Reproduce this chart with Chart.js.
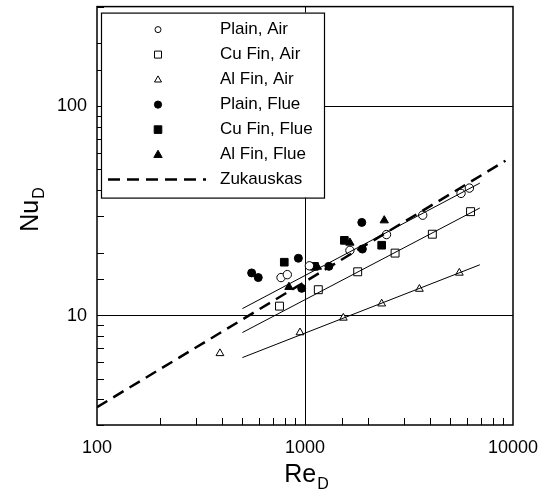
<!DOCTYPE html>
<html lang="en">
  <head>
    <meta charset="UTF-8" />
    <title>Nu vs Re</title>
    <script src="https://cdn.jsdelivr.net/npm/chart.js"></script>
    <style>
      body { margin: 0; background: #fff; }
      canvas { display: block; }
    </style>
  </head>
  <body>
    <canvas id="nuChart" width="549" height="489"></canvas>

    <script>
      // data
      const plainAirRe = [767, 822, 1050, 1644, 2465, 3680, 5625, 6170];
      const plainAirNu = [15.2, 15.7, 17.3, 20.5, 24.4, 30.2, 38.4, 40.7];

      const cuAirRe = [754, 1159, 1792, 2711, 4095, 6250];
      const cuAirNu = [11.1, 13.3, 16.2, 19.9, 24.5, 31.4];

      const alAirRe = [390, 946, 1528, 2337, 3548, 5520];
      const alAirNu = [6.6, 8.3, 9.75, 11.4, 13.4, 16.0];

      const plainFlueRe = [554, 596, 929, 964, 1303, 1887, 1875];
      const plainFlueNu = [16.0, 15.2, 18.8, 13.5, 17.2, 20.8, 27.9];

      const cuFlueRe = [795, 1110, 1546, 2337];
      const cuFlueNu = [18.0, 17.2, 22.9, 21.7];

      const alFlueRe = [837, 1146, 1644, 2404];
      const alFlueNu = [13.7, 17.1, 22.3, 28.5];

      // fitted lines (end points)
      const fitRe = [500, 6930];
      const plainAirFit = [10.8, 43];
      const cuAirFit = [8.3, 32.7];
      const alAirFit = [6.3, 17.5];

      const zukRe = [100, 9200];
      const zukNu = [3.65, 55];

      const xTickLabels = [100, 1000, 10000];
      const yTickLabels = [10, 100];

      const legendNames = [
        "Plain, Air",
        "Cu Fin, Air",
        "Al Fin, Air",
        "Plain, Flue",
        "Cu Fin, Flue",
        "Al Fin, Flue",
        "Zukauskas",
      ];

      function pts(xs, ys) {
        return xs.map((x, i) => ({ x: x, y: ys[i] }));
      }

      function isDecade(v) {
        const l = Math.log10(v);
        return Math.abs(l - Math.round(l)) < 1e-6;
      }

      function marker(style, filled, r) {
        return {
          type: "scatter",
          pointStyle: style,
          pointRadius: r,
          pointHoverRadius: r,
          pointBorderWidth: 1,
          pointBorderColor: "#000",
          pointBackgroundColor: filled ? "#000" : "#fff",
          showLine: false,
        };
      }

      function fitLine(xs, ys, dash, width) {
        return {
          type: "line",
          data: pts(xs, ys),
          borderColor: "#000",
          borderWidth: width,
          borderDash: dash,
          pointRadius: 0,
          fill: false,
          tension: 0,
        };
      }

      const datasets = [
        fitLine(fitRe, plainAirFit, [], 1),
        fitLine(fitRe, cuAirFit, [], 1),
        fitLine(fitRe, alAirFit, [], 1),
        fitLine(zukRe, zukNu, [12, 7], 2.5),
        Object.assign(marker("circle", false, 4.2), { data: pts(plainAirRe, plainAirNu) }),
        Object.assign(marker("rect", false, 5.6), { data: pts(cuAirRe, cuAirNu) }),
        Object.assign(marker("triangle", false, 4.5), { data: pts(alAirRe, alAirNu) }),
        Object.assign(marker("circle", true, 4), { data: pts(plainFlueRe, plainFlueNu) }),
        Object.assign(marker("rect", true, 5.4), { data: pts(cuFlueRe, cuFlueNu) }),
        Object.assign(marker("triangle", true, 4.8), { data: pts(alFlueRe, alFlueNu) }),
      ];

      // legend symbols: [style, filled, size]
      const legendMarks = [
        ["circle", false, 3],
        ["rect", false, 3.5],
        ["triangle", false, 3.2],
        ["circle", true, 3.6],
        ["rect", true, 3.8],
        ["triangle", true, 3.8],
        ["dash", true, 0],
      ];

      function drawShape(ctx, style, filled, x, y, r) {
        ctx.beginPath();
        if (style === "circle") {
          ctx.arc(x, y, r, 0, Math.PI * 2);
        } else if (style === "rect") {
          ctx.rect(x - r, y - r, 2 * r, 2 * r);
        } else if (style === "triangle") {
          ctx.moveTo(x, y - r * 1.15);
          ctx.lineTo(x + r * 1.1, y + r * 0.75);
          ctx.lineTo(x - r * 1.1, y + r * 0.75);
          ctx.closePath();
        }
        ctx.fillStyle = filled ? "#000" : "#fff";
        ctx.fill();
        ctx.strokeStyle = "#000";
        ctx.lineWidth = 1;
        ctx.stroke();
      }

      const framePlugin = {
        id: "frame",
        afterDraw(chart) {
          const ctx = chart.ctx;
          const a = chart.chartArea;
          const xs = chart.scales.x;
          const ys = chart.scales.y;
          ctx.save();

          // inward ticks
          ctx.strokeStyle = "#000";
          ctx.lineWidth = 1;
          ctx.beginPath();
          xs.ticks.forEach((t) => {
            if (isDecade(t.value)) return;
            const px = Math.round(xs.getPixelForValue(t.value)) + 0.5;
            ctx.moveTo(px, a.bottom);
            ctx.lineTo(px, a.bottom - 7);
          });
          ys.ticks.forEach((t) => {
            if (isDecade(t.value)) return;
            const py = Math.round(ys.getPixelForValue(t.value)) + 0.5;
            ctx.moveTo(a.left, py);
            ctx.lineTo(a.left + 7, py);
          });
          ctx.stroke();

          // legend box
          const lx = a.left + 4, ly = a.top + 6, lw = 223, lh = 185;
          ctx.fillStyle = "#fff";
          ctx.fillRect(lx, ly, lw, lh);
          ctx.lineWidth = 1.2;
          ctx.strokeRect(lx + 0.5, ly + 0.5, lw, lh);

          ctx.font = "17px 'Liberation Sans', Arial, sans-serif";
          ctx.textBaseline = "middle";
          ctx.textAlign = "left";
          legendNames.forEach((name, i) => {
            const y = ly + 17 + i * 25;
            const m = legendMarks[i];
            if (m[0] === "dash") {
              ctx.save();
              ctx.strokeStyle = "#000";
              ctx.lineWidth = 2.5;
              ctx.setLineDash([12, 7]);
              ctx.beginPath();
              ctx.moveTo(lx + 7, y);
              ctx.lineTo(lx + 105, y);
              ctx.stroke();
              ctx.restore();
            } else {
              drawShape(ctx, m[0], m[1], lx + 57, y, m[2]);
            }
            ctx.fillStyle = "#000";
            ctx.fillText(name, lx + 119, y);
          });

          // frame
          ctx.lineWidth = 1.5;
          ctx.strokeStyle = "#000";
          ctx.strokeRect(a.left, a.top, a.right - a.left, a.bottom - a.top);

          // axis titles with subscripts
          ctx.fillStyle = "#000";
          ctx.textBaseline = "alphabetic";
          ctx.textAlign = "left";
          const big = "25px 'Liberation Sans', Arial, sans-serif";
          const small = "16px 'Liberation Sans', Arial, sans-serif";
          ctx.font = big;
          const reW = ctx.measureText("Re").width;
          ctx.font = small;
          const dW = ctx.measureText("D").width;
          let sx = 306 - (reW + dW) / 2;
          ctx.font = big;
          ctx.fillText("Re", sx, 482);
          ctx.font = small;
          ctx.fillText("D", sx + reW + 1, 489);

          ctx.save();
          ctx.translate(38, 210);
          ctx.rotate(-Math.PI / 2);
          ctx.font = big;
          const nuW = ctx.measureText("Nu").width;
          sx = -(nuW + dW) / 2;
          ctx.fillText("Nu", sx, 0);
          ctx.font = small;
          ctx.fillText("D", sx + nuW + 1, 6);
          ctx.restore();

          ctx.restore();
        },
      };

      const tickFont = { family: "'Liberation Sans', Arial, sans-serif", size: 18 };

      new Chart(document.getElementById("nuChart"), {
        type: "scatter",
        data: { datasets: datasets },
        options: {
          responsive: false,
          animation: false,
          layout: { padding: { top: 6, right: 36, left: 0, bottom: 0 } },
          plugins: {
            legend: { display: false },
            tooltip: { enabled: false },
          },
          scales: {
            x: {
              type: "logarithmic",
              min: 100,
              max: 10000,
              afterFit: (s) => {
                s.height = 64;
                s.paddingLeft = 0;
                s.paddingRight = 0;
              },
              border: { display: false },
              grid: {
                drawTicks: false,
                lineWidth: 1,
                color: (c) =>
                  c.tick && c.tick.value === 1000 ? "#000" : "rgba(0,0,0,0)",
              },
              ticks: {
                autoSkip: false,
                maxRotation: 0,
                padding: 12,
                color: "#000",
                font: tickFont,
                callback: (v) => (xTickLabels.includes(v) ? String(v) : ""),
              },
            },
            y: {
              type: "logarithmic",
              min: 3,
              max: 300,
              afterFit: (s) => {
                s.width = 97;
                s.paddingTop = 0;
                s.paddingBottom = 0;
              },
              border: { display: false },
              grid: {
                drawTicks: false,
                lineWidth: 1,
                color: (c) =>
                  c.tick && yTickLabels.includes(c.tick.value) ? "#000" : "rgba(0,0,0,0)",
              },
              ticks: {
                autoSkip: false,
                padding: 10,
                color: "#000",
                font: tickFont,
                callback: (v) => (yTickLabels.includes(v) ? String(v) : ""),
              },
            },
          },
        },
        plugins: [framePlugin],
      });
    </script>
  </body>
</html>
